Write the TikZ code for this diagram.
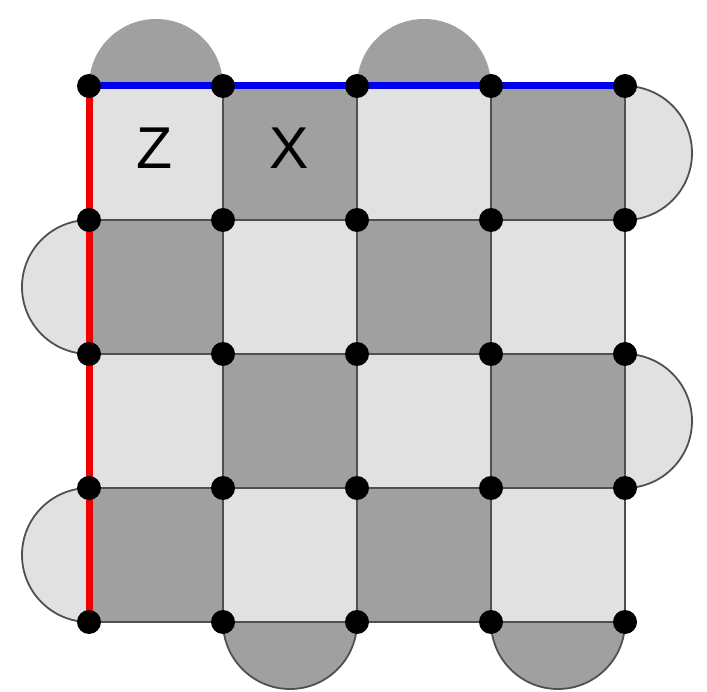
\documentclass[tikz,border=0pt]{standalone}
\usepackage{fontspec}
\setmainfont{Liberation Sans}
\definecolor{lightface}{HTML}{E1E1E1}
\definecolor{darkface}{HTML}{A0A0A0}
\definecolor{edgegray}{HTML}{505050}
\definecolor{zred}{HTML}{F00000}
\definecolor{xblue}{HTML}{0000F0}
\tikzset{
  plaq/.style={draw=edgegray, line width=1.5pt},
  halfdisc/.style={draw=edgegray, line width=1.8pt},
  qubit/.style={circle, fill=black, inner sep=0pt, minimum size=24pt},
  lbl/.style={font=\fontsize{59}{59}\selectfont, text=black},
}
\begin{document}
\begin{tikzpicture}[x=1pt, y=-1pt]
  \useasboundingbox (0,0) rectangle (707,692);
  \fill[white] (0,0) rectangle (707,692);
  % half-disc stabilizers on the boundary (y grows downwards)
  \fill[darkface] (89,86) arc[start angle=180, end angle=360, radius=67] -- cycle;
  \fill[darkface] (357,86) arc[start angle=180, end angle=360, radius=67] -- cycle;
  \filldraw[fill=darkface, halfdisc] (223,622) arc[start angle=180, end angle=0, radius=67];
  \filldraw[fill=darkface, halfdisc] (491,622) arc[start angle=180, end angle=0, radius=67];
  \filldraw[fill=lightface, halfdisc] (89,220) arc[start angle=270, end angle=90, radius=67];
  \filldraw[fill=lightface, halfdisc] (89,488) arc[start angle=270, end angle=90, radius=67];
  \filldraw[fill=lightface, halfdisc] (625,86) arc[start angle=-90, end angle=90, radius=67];
  \filldraw[fill=lightface, halfdisc] (625,354) arc[start angle=-90, end angle=90, radius=67];
  % checkerboard of plaquettes
  \foreach \i in {0,...,3} {
    \foreach \j in {0,...,3} {
      \pgfmathtruncatemacro{\parity}{mod(\i+\j,2)}
      \ifnum\parity=0
        \filldraw[fill=lightface, plaq] ({89+134*\i},{86+134*\j}) rectangle ++(134,134);
      \else
        \filldraw[fill=darkface, plaq] ({89+134*\i},{86+134*\j}) rectangle ++(134,134);
      \fi
    }
  }
  % qubit sites
  \foreach \i in {0,...,4} {
    \foreach \j in {0,...,4} {
      \coordinate (q\i\j) at ({89+134*\i},{86+134*\j});
    }
  }
  % logical boundaries
  \draw[zred, line width=7pt] (q00) -- (q04);
  \draw[xblue, line width=7pt] (q00) -- (q40);
  \foreach \i in {0,...,4} {
    \foreach \j in {0,...,4} {
      \node[qubit] (n\i\j) at (q\i\j) {};
    }
  }
  \node[lbl] (zlab) at (155,148) {Z};
  \node[lbl] (xlab) at (289,148) {X};
\end{tikzpicture}
\end{document}
